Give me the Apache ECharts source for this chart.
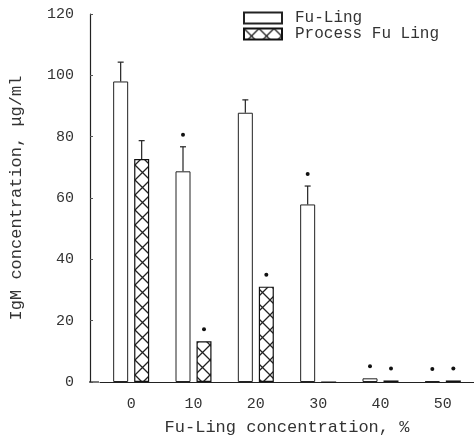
<!DOCTYPE html>
<html>
<head>
<meta charset="utf-8">
<script src="https://cdn.jsdelivr.net/npm/echarts@6/dist/echarts.min.js"></script>
<style>
  html, body { margin: 0; padding: 0; background: #fff; }
  #chart { width: 474px; height: 443px; }
</style>
</head>
<body>
<div id="chart"></div>
<script>
// data
const categories = ["0", "10", "20", "30", "40", "50"];
const fuLing = [98, 68.7, 87.8, 57.9, 1.2, 0.3];
const fuLingErr = [6.3, 8, 4.2, 6, 0, 0];
const fuLingStar = [0, 1, 0, 1, 1, 1];
const processFuLing = [72.7, 13.3, 31.1, 0, 0.5, 0.5];
const processErr = [6, 0, 0, 0, 0, 0];
const processStar = [0, 1, 1, 0, 1, 1];

const chart = echarts.init(document.getElementById("chart"));

// cross hatch fill
function hatch() {
  const c = document.createElement("canvas");
  c.width = 15;
  c.height = 15;
  const ctx = c.getContext("2d");
  ctx.fillStyle = "#fff";
  ctx.fillRect(0, 0, 15, 15);
  ctx.strokeStyle = "#222";
  ctx.lineWidth = 1.3;
  ctx.beginPath();
  ctx.moveTo(0, 0); ctx.lineTo(15, 15);
  ctx.moveTo(15, 0); ctx.lineTo(0, 15);
  ctx.stroke();
  return c;
}

// error bar + significance mark
function errRender(offset) {
  return function (params, api) {
    const i = api.value(0);
    const v = api.value(1);
    const e = api.value(2);
    const s = api.value(3);
    const base = api.coord([i, v]);
    const top = api.coord([i, v + e]);
    const x = base[0] + offset;
    const children = [];
    const st = { stroke: "#222", lineWidth: 1.2 };
    if (e > 0) {
      children.push({ type: "line", shape: { x1: x, y1: base[1], x2: x, y2: top[1] }, style: st });
      children.push({ type: "line", shape: { x1: x - 3, y1: top[1], x2: x + 3, y2: top[1] }, style: st });
    }
    if (s) {
      children.push({ type: "circle", shape: { cx: x, cy: top[1] - 12, r: 2 }, style: { fill: "#111" } });
    }
    return { type: "group", children: children };
  };
}

const fuErrData = fuLing.map((v, i) => [i, v, fuLingErr[i], fuLingStar[i]]);
const procErrData = processFuLing.map((v, i) => [i, v, processErr[i], processStar[i]]);

const font = "Liberation Mono";

const option = {
  backgroundColor: "#fff",
  animation: false,
  grid: { left: 99, right: -11, top: 14, bottom: 61 },
  legend: {
    orient: "vertical",
    left: 238,
    top: 5,
    icon: "rect",
    itemWidth: 38,
    itemHeight: 11,
    itemGap: 0,
    data: ["Fu-Ling", "Process Fu Ling"],
    textStyle: { fontFamily: font, fontSize: 16, color: "#333", padding: [0, 0, 0, 8] }
  },
  xAxis: {
    type: "category",
    data: categories,
    name: "Fu-Ling concentration, %",
    nameLocation: "middle",
    nameGap: 37,
    nameTextStyle: { fontFamily: font, fontSize: 17, color: "#333", padding: [0, 0, 0, 0] },
    axisLine: { lineStyle: { color: "#222", width: 1.2 } },
    axisTick: { show: false },
    axisLabel: { fontFamily: font, fontSize: 15, color: "#333", margin: 15 }
  },
  yAxis: {
    type: "value",
    min: 0,
    max: 120,
    interval: 20,
    offset: 10,
    name: "IgM concentration, \u03bcg/ml",
    nameLocation: "middle",
    nameGap: 65,
    nameTextStyle: { fontFamily: font, fontSize: 17, color: "#333" },
    axisLine: { show: true, lineStyle: { color: "#222", width: 1.2 } },
    axisTick: { show: true, inside: true, length: 3, lineStyle: { color: "#555" } },
    axisLabel: { fontFamily: font, fontSize: 15, color: "#333", margin: 16 },
    splitLine: { show: false }
  },
  graphic: [
    { type: "line", shape: { x1: 89, y1: 382, x2: 99, y2: 382 }, style: { stroke: "#222", lineWidth: 1.2 } }
  ],
  series: [
    {
      name: "Fu-Ling",
      type: "bar",
      data: fuLing,
      barWidth: 15,
      barGap: "40%",
      itemStyle: { color: "#fff", borderColor: "#222", borderWidth: 1 }
    },
    {
      name: "Process Fu Ling",
      type: "bar",
      data: processFuLing,
      barWidth: 15,
      itemStyle: { color: { image: hatch(), repeat: "repeat" }, borderColor: "#111", borderWidth: 1.2 }
    },
    {
      type: "custom",
      renderItem: errRender(-10.5),
      data: fuErrData,
      z: 5
    },
    {
      type: "custom",
      renderItem: errRender(10.5),
      data: procErrData,
      z: 5
    }
  ]
};

chart.setOption(option);
</script>
</body>
</html>
